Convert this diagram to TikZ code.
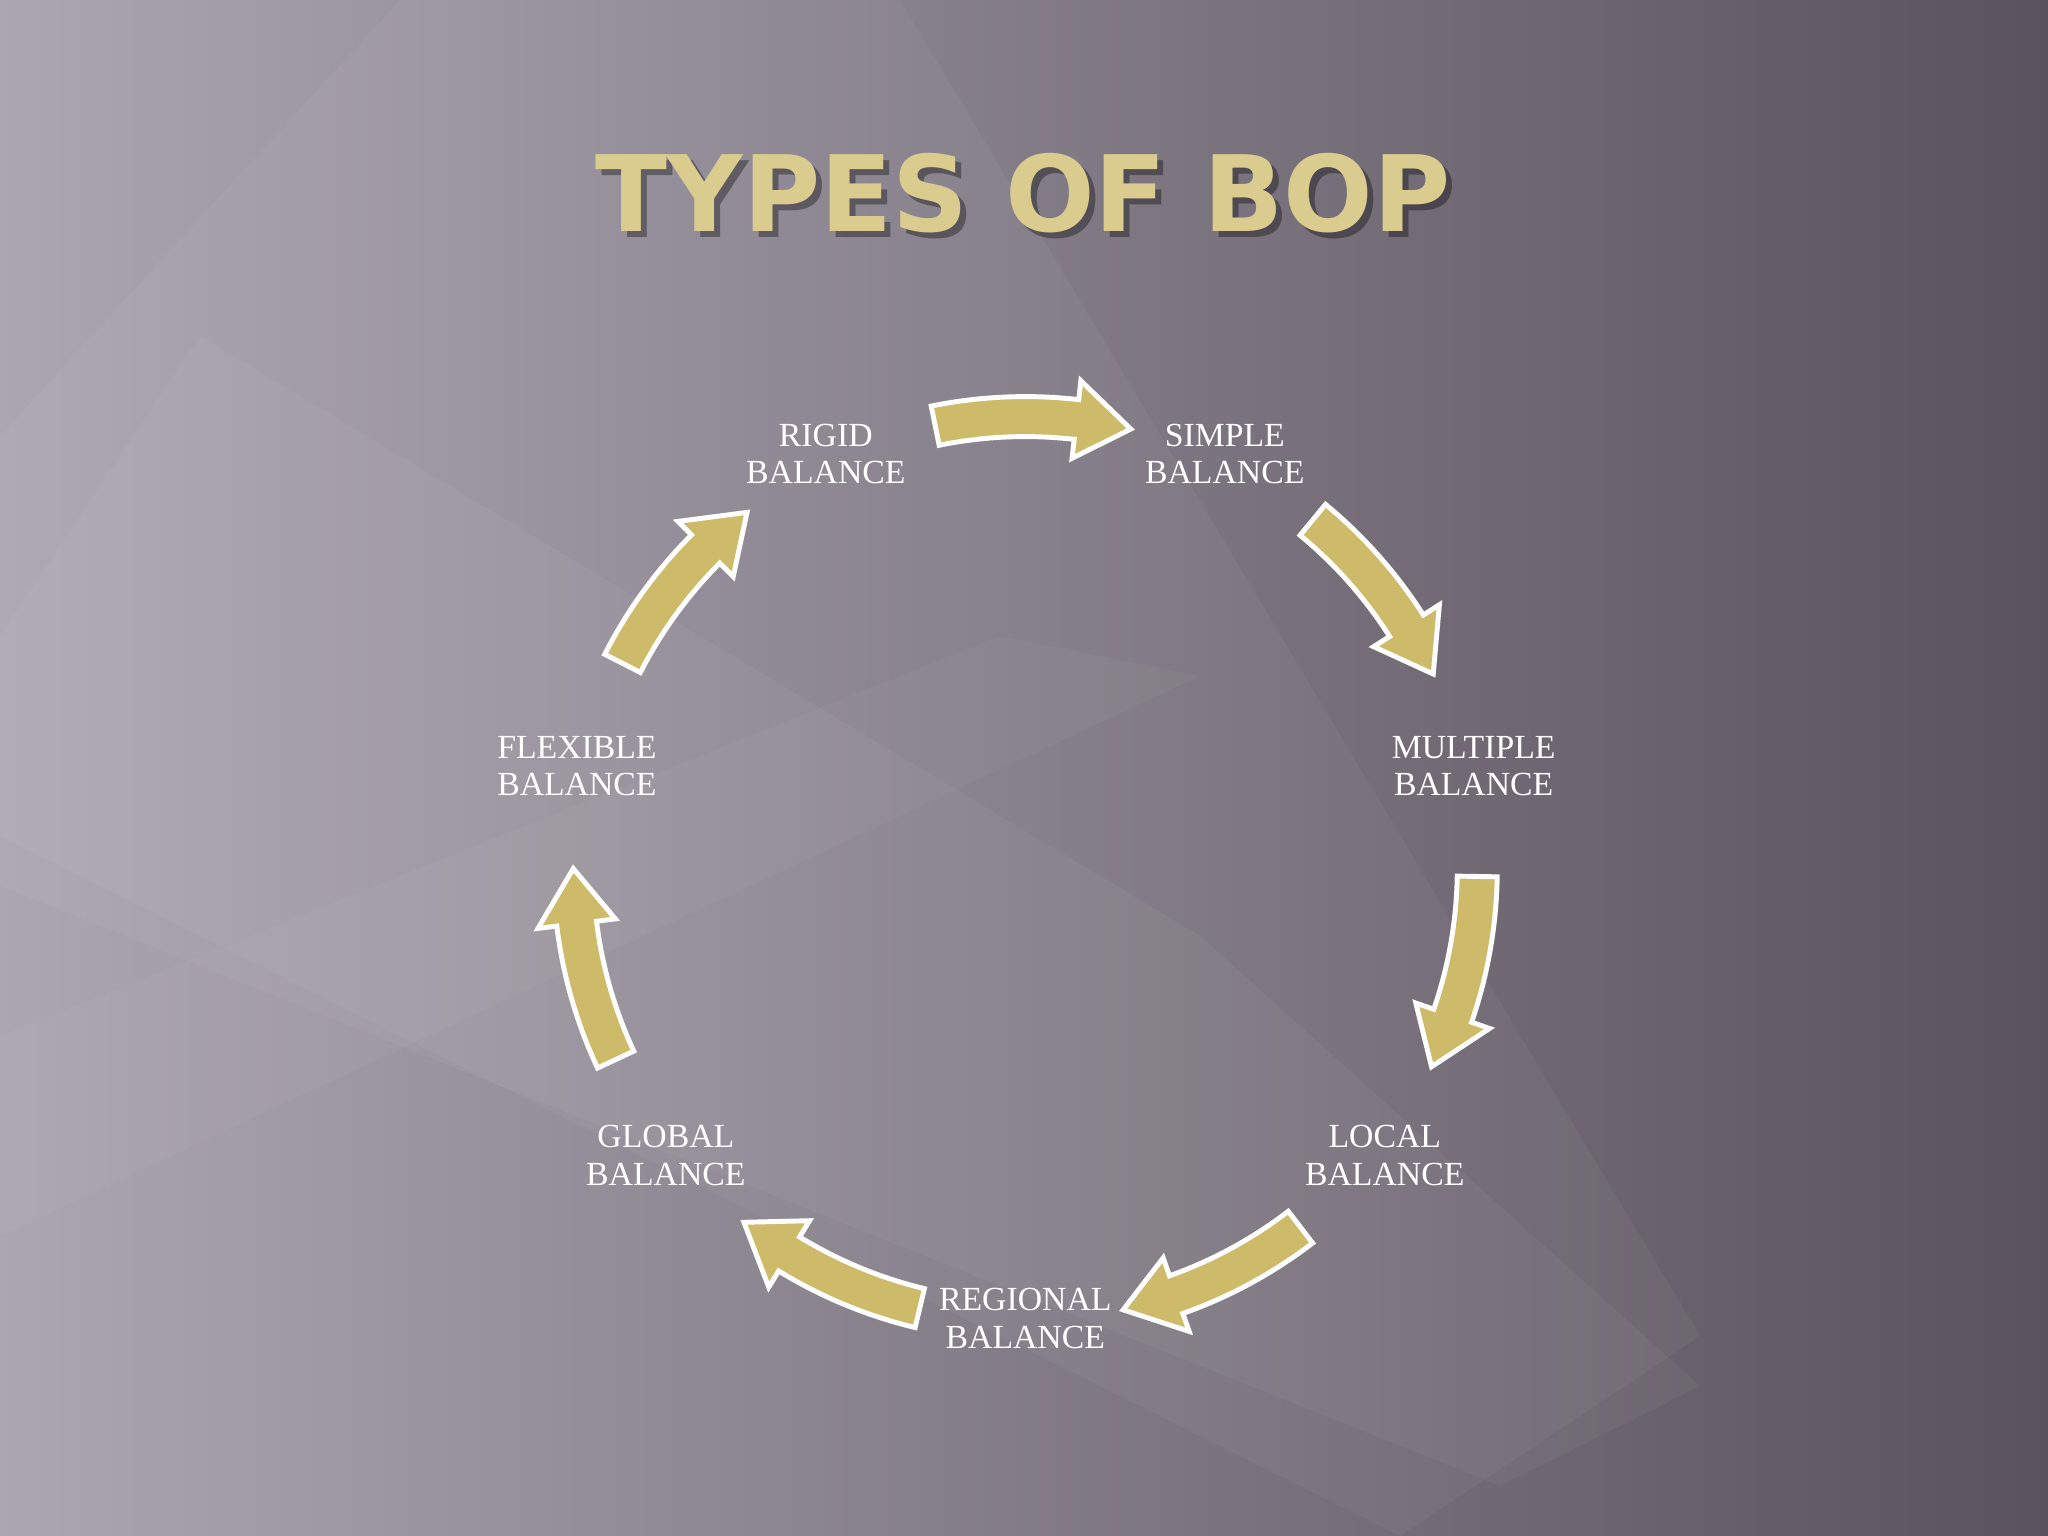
\documentclass[tikz,border=0pt]{standalone}
\usepackage{fontspec}
\setmainfont{Liberation Serif}
\newfontfamily\titlefont{DejaVu Sans}
\definecolor{gold}{HTML}{CDBB6A}
\definecolor{titlegold}{HTML}{D9CC8E}
\definecolor{bgl}{HTML}{ABA6B2}
\definecolor{bgr}{HTML}{5A525C}
\begin{document}
\begin{tikzpicture}
\tikzset{lbl/.style={text=white,align=center,font=\fontsize{9.6}{10.6}\selectfont},
 cyc/.style={fill=gold,draw=white,line width=1.4pt,line join=miter}}
\shade[left color=bgl,right color=bgr] (0,0) rectangle (20.48,15.36);
\useasboundingbox (0,0) rectangle (20.48,15.36);
\fill[white,opacity=0.04] (0,11) -- (4,15.36) -- (9,15.36) -- (17,2) -- (14,0) -- (0,7) -- cycle;
\fill[white,opacity=0.04] (0,9) -- (2,12) -- (12,6) -- (17,1.5) -- (15,0.5) -- (0,6.5) -- cycle;
\fill[white,opacity=0.03] (0,3) -- (0,5) -- (10,9) -- (12,8.6) -- cycle;
\node[font=\titlefont\bfseries\fontsize{30}{32}\selectfont,text=black,opacity=0.35] at (10.29,13.37) {TYPES OF BOP};
\node (title) [font=\titlefont\bfseries\fontsize{30}{32}\selectfont,text=titlegold] at (10.23,13.43) {TYPES OF BOP};
\begin{scope}[shift={(10.253,6.674)}]
\foreach \m in {89.5,38.5,-13,-64.5,-115.5,-167,141}{
 \pgfmathsetmacro\aa{\m+12}
 \pgfmathsetmacro\ab{\m-13}
 \pgfmathsetmacro\ah{\m-6}
 \draw[cyc] (\aa:4.72) arc[start angle=\aa,end angle=\ah,radius=4.72] -- (\ah:4.91) -- (\ab:4.52) -- (\ah:4.13) -- (\ah:4.32) arc[start angle=\ah,end angle=\aa,radius=4.32] -- cycle;
}
\node (rigid) [lbl] at (115.7:4.6) {RIGID\\BALANCE};
\node (simple) [lbl] at (64.3:4.6) {SIMPLE\\BALANCE};
\node (multiple) [lbl] at (12.9:4.6) {MULTIPLE\\BALANCE};
\node (local) [lbl] at (-38.6:4.6) {LOCAL\\BALANCE};
\node (regional) [lbl] at (-90:4.5) {REGIONAL\\BALANCE};
\node (global) [lbl] at (-141.4:4.6) {GLOBAL\\BALANCE};
\node (flexible) [lbl] at (167.1:4.6) {FLEXIBLE\\BALANCE};
\end{scope}
\end{tikzpicture}
\end{document}
